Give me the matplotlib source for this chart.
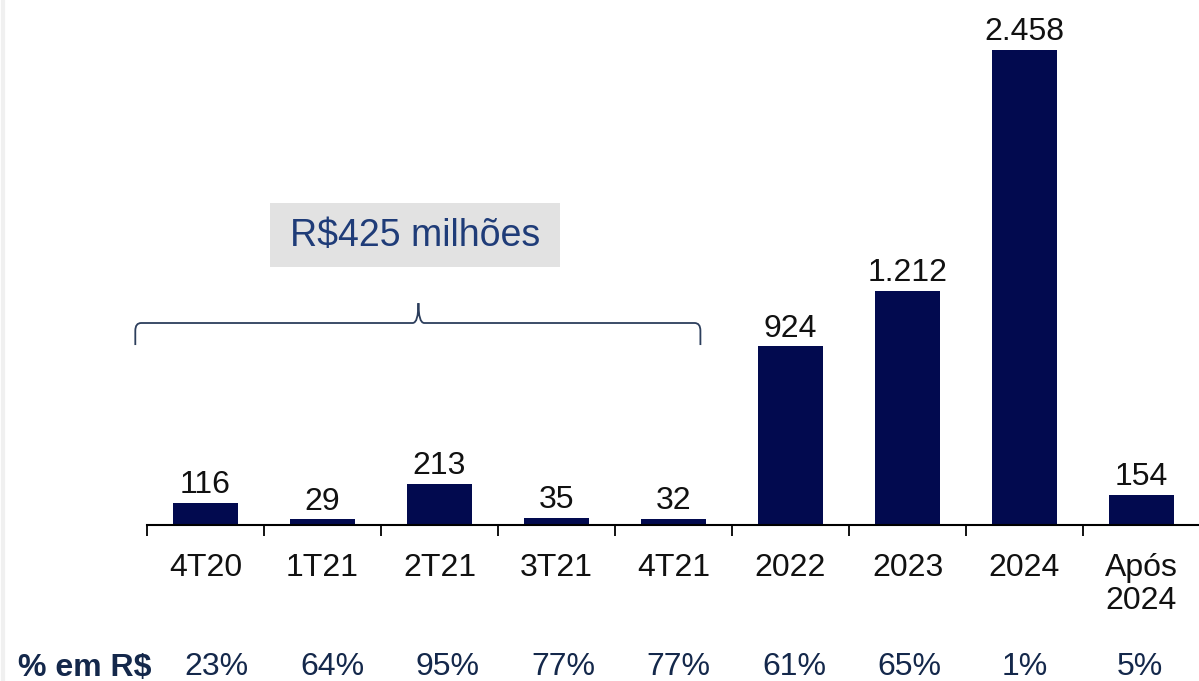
import matplotlib.pyplot as plt
import matplotlib.transforms as mtransforms
from matplotlib.lines import Line2D
from matplotlib.path import Path
from matplotlib.patches import PathPatch, Rectangle

plt.rcParams['font.family'] = ['Liberation Sans', 'DejaVu Sans']

categories = ['4T20', '1T21', '2T21', '3T21', '4T21', '2022', '2023', '2024', 'Após\n2024']
values = [116, 29, 213, 35, 32, 924, 1212, 2458, 154]
value_labels = ['116', '29', '213', '35', '32', '924', '1.212', '2.458', '154']
pct_labels = ['23%', '64%', '95%', '77%', '77%', '61%', '65%', '1%', '5%']
box_text = 'R$425 milhões'
row_title = '% em R$'

bar_color = '#020a4f'
navy = '#14284b'
fs = 23

fig = plt.figure(figsize=(11.99, 6.81), dpi=100)
ax = fig.add_axes([147 / 1199, 156 / 681, 1053 / 1199, 525 / 681])

x = list(range(len(categories)))
ax.bar(x, values, width=0.55, color=bar_color)
for xi, v, lab in zip(x, values, value_labels):
    ax.annotate(lab, (xi, v), xytext=(0, 2), textcoords='offset points',
                ha='center', va='bottom', fontsize=fs, color='#111111')

ax.set_xlim(-0.5, 8.5)
ax.set_ylim(0, 2716)
for s in ['top', 'right', 'left']:
    ax.spines[s].set_visible(False)
ax.spines['bottom'].set_linewidth(1.5)
ax.set_yticks([])
ax.set_xticks(x)
ax.set_xticklabels(categories, fontsize=fs, color='#111111', linespacing=1.14)
ax.tick_params(axis='x', which='major', length=0, pad=20)
ax.set_xticks([i - 0.5 for i in range(len(categories) + 1)], minor=True)
ax.tick_params(axis='x', which='minor', length=8, width=1.3, direction='out')

# bottom row of percentages (slightly tighter spacing than the bars)
trans = mtransforms.blended_transform_factory(ax.transData, fig.transFigure)
for xi, p in zip(x, pct_labels):
    ax.text(0.094 + 0.987 * xi, 1 - 667 / 681, p, transform=trans,
            ha='center', va='center', fontsize=fs, color=navy)
fig.text(18 / 1199, 1 - 668 / 681, row_title, ha='left', va='center',
         fontsize=fs, fontweight='bold', color=navy)

# brace over the first five periods
x0, x1, xm = -0.6, 4.23, 1.82
y_end, y_mid, y_top = 931, 1045, 1148
r = 0.05
verts = [(x0, y_end), (x0, y_mid - 40), (x0, y_mid), (x0 + r, y_mid),
         (xm - r, y_mid), (xm, y_mid), (xm, y_top),
         (xm, y_mid), (xm + r, y_mid),
         (x1 - r, y_mid), (x1, y_mid), (x1, y_mid - 40), (x1, y_end)]
codes = [Path.MOVETO, Path.LINETO, Path.CURVE3, Path.CURVE3,
         Path.LINETO, Path.CURVE3, Path.CURVE3,
         Path.CURVE3, Path.CURVE3,
         Path.LINETO, Path.CURVE3, Path.CURVE3, Path.LINETO]
ax.add_patch(PathPatch(Path(verts, codes), fill=False, edgecolor='#2c3e5c',
                       linewidth=1.3, clip_on=False))

# label box
fig.add_artist(Rectangle((270 / 1199, 1 - 267 / 681), 290 / 1199, 64 / 681,
                         transform=fig.transFigure, facecolor='#e2e2e2',
                         edgecolor='none'))
fig.text(415 / 1199, 1 - 236 / 681, box_text, ha='center', va='center',
         fontsize=27, color='#1f3c78')

fig.add_artist(Line2D([3 / 1199, 3 / 1199], [0, 1], color='#f0f0f0', linewidth=3))

fig.savefig('out.png', dpi=100)
